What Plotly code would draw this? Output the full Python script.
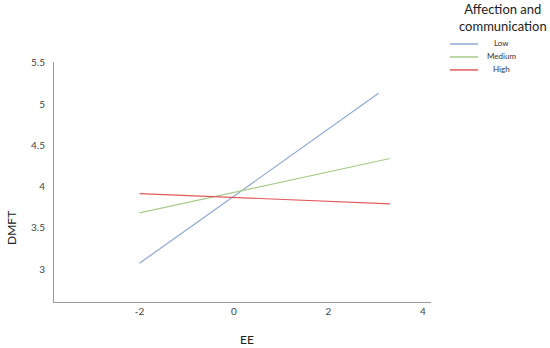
import plotly.graph_objects as go

# EE values at the ends of each simple-slope line
ee_low = [-2, 3.06]
ee_med = [-2, 3.3]
ee_high = [-2, 3.3]

# predicted DMFT at those points
dmft_low = [3.07, 5.13]
dmft_med = [3.68, 4.34]
dmft_high = [3.915, 3.79]

x_ticks = [-2, 0, 2, 4]
x_ticktext = ["-2", "0", "2", "4"]
y_ticks = [3, 3.5, 4, 4.5, 5, 5.5]

series = [
    ("Low", ee_low, dmft_low, "rgb(143,168,210)"),
    ("Medium", ee_med, dmft_med, "rgb(168,204,140)"),
    ("High", ee_high, dmft_high, "rgb(226,90,92)"),
]

font_family = "Lato, Open Sans, sans-serif"

fig = go.Figure()
for name, xs, ys, col in series:
    fig.add_trace(go.Scatter(x=xs, y=ys, mode="lines", name=name,
                             line=dict(color=col, width=1.2), showlegend=False))

# hand-made legend (compact, centred like the original) + axis titles
annotations = [
    dict(text="Affection and<br>communication", xref="paper", yref="paper",
         x=1.191, y=1.262, xanchor="center", yanchor="top", align="center",
         showarrow=False, font=dict(size=13, color="#222222")),
    dict(text="DMFT", textangle=-90, xref="paper", yref="y",
         x=-0.111, y=3.5, xanchor="center", yanchor="middle", showarrow=False,
         font=dict(size=12, color="#222222")),
    dict(text="EE", xref="paper", yref="paper",
         x=0.512, y=-0.158, xanchor="center", yanchor="middle",
         showarrow=False, font=dict(size=12, color="#222222")),
]
shapes = []
for i, (name, xs, ys, col) in enumerate(series):
    yy = 1.075 - i * 0.054
    shapes.append(dict(type="line", xref="paper", yref="paper",
                       x0=1.050, x1=1.125, y0=yy, y1=yy,
                       line=dict(color=col, width=1.5)))
    annotations.append(dict(text=name, xref="paper", yref="paper",
                            x=1.188, y=yy + 0.004, xanchor="center", yanchor="middle",
                            showarrow=False, font=dict(size=8, color="#333333")))

fig.update_layout(
    width=550, height=348,
    margin=dict(l=54, r=119, t=62, b=46),
    paper_bgcolor="white", plot_bgcolor="white",
    font=dict(family=font_family, color="#333333"),
    showlegend=False,
    xaxis=dict(
        range=[-3.81, 4.17], tickvals=x_ticks, ticktext=x_ticktext,
        showgrid=False, zeroline=False, showline=True, automargin=False,
        linecolor="#9a9a9a", linewidth=1, ticks="",
        tickfont=dict(size=10, color="#444444"),
    ),
    yaxis=dict(
        range=[2.6, 5.51], tickvals=y_ticks, automargin=False,
        showgrid=False, zeroline=False, showline=True,
        linecolor="#9a9a9a", linewidth=1, ticks="",
        tickfont=dict(size=10, color="#444444"), ticklabelstandoff=6,
    ),
    annotations=annotations,
    shapes=shapes,
)

# drop the browser's default 8px body margin so the figure sits at the page corner
fig.write_html("out.html", config={"displayModeBar": False},
               post_script="document.body.style.margin='0';")
